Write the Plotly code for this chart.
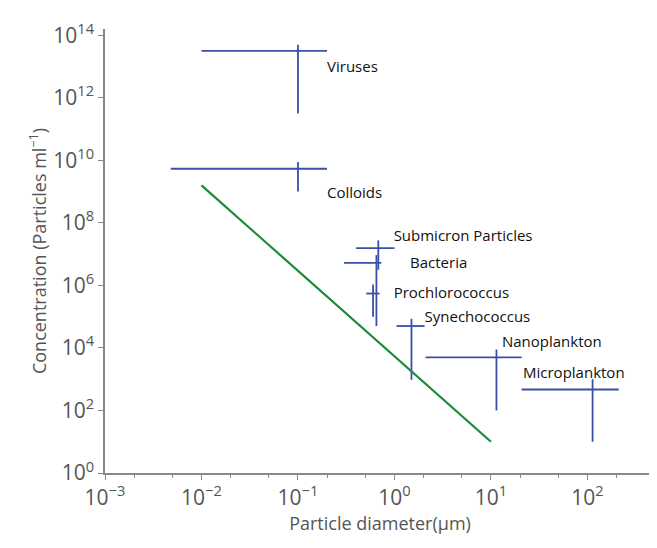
import plotly.graph_objects as go

names = ["Viruses", "Colloids", "Submicron Particles", "Bacteria", "Prochlorococcus",
         "Synechococcus", "Nanoplankton", "Microplankton"]
h_y = [10**13.5, 10**9.73, 10**7.19, 10**6.72, 10**5.74, 10**4.7, 10**3.7, 10**2.67]
h_x0 = [0.01, 0.0048, 0.4, 0.3, 0.51, 1.05, 2.1, 20.8]
h_x1 = [0.2, 0.2, 1.0, 0.73, 0.70, 2.05, 20.8, 211]
v_x = [0.1, 0.1, 0.68, 0.65, 0.6, 1.5, 11.4, 113]
v_y0 = [10**11.5, 10**9.0, 10**6.5, 10**4.7, 10**5.0, 10**2.98, 10**2.0, 10**1.0]
v_y1 = [10**13.7, 10**9.95, 10**7.44, 10**6.97, 10**6.03, 10**4.93, 10**3.95, 10**3.0]
lab_x = [0.2, 0.2, 0.98, 1.45, 0.98, 2.05, 13.0, 21.5]
lab_y = [10**12.95, 10**8.9, 10**7.55, 10**6.68, 10**5.72, 10**4.95, 10**4.15, 10**3.15]

line_x = [0.01, 10]
line_y = [10**9.2, 10**1.0]

xt = [1e-3, 1e-2, 1e-1, 1, 10, 100]
xt_text = ["10<sup>−3</sup>", "10<sup>−2</sup>", "10<sup>−1</sup>", "10<sup>0</sup>", "10<sup>1</sup>", "10<sup>2</sup>"]
yt = [1, 1e2, 1e4, 1e6, 1e8, 1e10, 1e12, 1e14]
yt_text = ["10<sup>0</sup>", "10<sup>2</sup>", "10<sup>4</sup>", "10<sup>6</sup>", "10<sup>8</sup>",
           "10<sup>10</sup>", "10<sup>12</sup>", "10<sup>14</sup>"]

blue = "#3a4fa6"
fig = go.Figure()
xs, ys = [], []
for i in range(len(names)):
    xs += [h_x0[i], h_x1[i], None, v_x[i], v_x[i], None]
    ys += [h_y[i], h_y[i], None, v_y0[i], v_y1[i], None]
fig.add_trace(go.Scatter(x=xs, y=ys, mode="lines", line=dict(color=blue, width=1.8), hoverinfo="skip"))
fig.add_trace(go.Scatter(x=line_x, y=line_y, mode="lines", line=dict(color="#1a8a3a", width=2.2)))
fig.add_trace(go.Scatter(x=lab_x, y=lab_y, mode="text", text=names, textposition="middle right",
                         textfont=dict(size=15, color="#111", family="Open Sans")))

ax = dict(type="log", showgrid=False, zeroline=False, showline=True, linecolor="#888", linewidth=1.5,
          ticks="outside", tickcolor="#888", ticklen=5, tickfont=dict(size=21, color="#555", family="Open Sans"))
fig.update_xaxes(**ax, range=[-3, 2.7], tickvals=xt, ticktext=xt_text,
                 minor=dict(ticks="outside", ticklen=3, tickcolor="#888"),
                 title=dict(text="Particle diameter(μm)", font=dict(size=18, color="#555", family="Open Sans"), standoff=0))
fig.update_yaxes(**ax, range=[0, 14.2], tickvals=yt, ticktext=yt_text,
                 title=dict(text="Concentration (Particles ml<sup>−1</sup>)", font=dict(size=18, color="#555", family="Open Sans"), standoff=2))
fig.update_layout(width=657, height=548, margin=dict(l=97, r=10, t=12, b=83), showlegend=False,
                  plot_bgcolor="white", paper_bgcolor="white")
fig.write_html("out.html")
